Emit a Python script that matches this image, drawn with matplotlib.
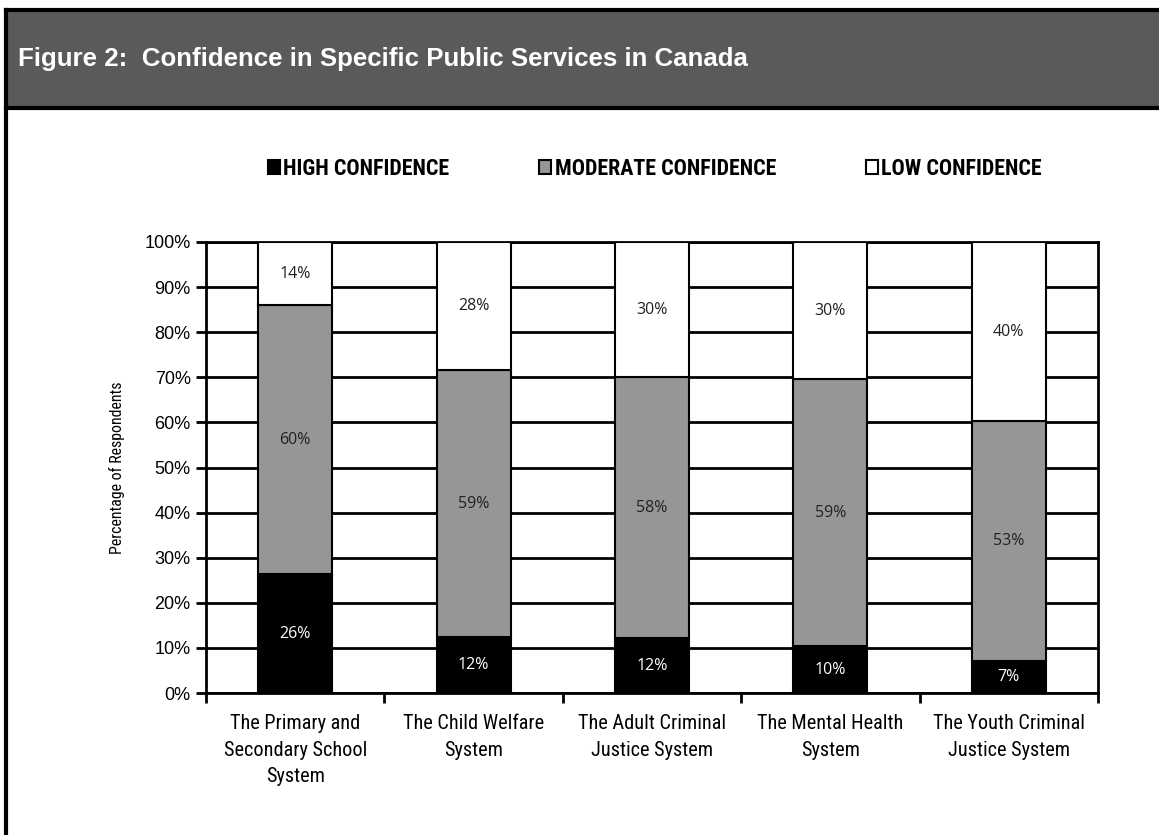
import numpy as np
import matplotlib
matplotlib.use("Agg")
import matplotlib.pyplot as plt
from matplotlib.patches import Patch, Rectangle
from matplotlib.lines import Line2D

# Survey results (% of respondents) per public service
services = [
    "The Primary and\nSecondary School\nSystem",
    "The Child Welfare\nSystem",
    "The Adult Criminal\nJustice System",
    "The Mental Health\nSystem",
    "The Youth Criminal\nJustice System",
]
high = [26.3, 12.4, 12.1, 10.4, 7.2]
moderate = [59.7, 59.2, 57.9, 59.2, 53.0]
low = [14.0, 28.4, 30.0, 30.4, 39.8]

series_names = ["HIGH CONFIDENCE", "MODERATE CONFIDENCE", "LOW CONFIDENCE"]
series_colors = ["#000000", "#969696", "#ffffff"]
label_colors = ["white", "#222222", "#222222"]

narrow = ["Roboto Condensed", "Archivo Narrow", "DejaVu Sans"]
arial = ["Liberation Sans", "DejaVu Sans"]
plain = ["Open Sans", "DejaVu Sans"]

W, H = 1159, 835
fig = plt.figure(figsize=(W / 100, H / 100), dpi=100)
fig.patch.set_facecolor("white")

# header band and frame
top = 1 - 10 / H
hdr_bot = 1 - 108 / H
fig.patches.append(Rectangle((6 / W, hdr_bot), 1 - 6 / W, top - hdr_bot,
                             transform=fig.transFigure, facecolor="#5a5a5a",
                             edgecolor="none", zorder=0))
for xs, ys in [([6 / W, 1], [top, top]), ([6 / W, 1], [hdr_bot, hdr_bot]),
               ([6 / W, 6 / W], [0, top])]:
    fig.add_artist(Line2D(xs, ys, transform=fig.transFigure, color="black", lw=3))
fig.text(18 / W, 1 - 59 / H, "Figure 2:  Confidence in Specific Public Services in Canada",
         color="white", fontsize=18.6, fontweight="bold", family=arial,
         va="center", ha="left")

ax = fig.add_axes([206 / W, 1 - 693 / H, (1098 - 206) / W, (693 - 242) / H])
x = np.arange(len(services))
width = 0.415
bottom = np.zeros(len(services))
for vals, name, col, lcol in zip([high, moderate, low], series_names, series_colors, label_colors):
    vals = np.array(vals)
    ax.bar(x, vals, width, bottom=bottom, color=col, edgecolor="black", linewidth=1.5,
           label=name, zorder=3)
    for xi, b, v in zip(x, bottom, vals):
        ax.text(xi, b + v / 2, f"{round(v)}%", ha="center", va="center",
                color=lcol, fontsize=11.5, family=plain, zorder=4)
    bottom += vals

ax.set_xlim(-0.5, len(services) - 0.5)
ax.set_ylim(0, 100)
ax.set_yticks(np.arange(0, 101, 10))
ax.set_yticklabels([f"{v}%" for v in range(0, 101, 10)], family=arial, fontsize=13)
ax.yaxis.grid(True, color="black", linewidth=2)
ax.set_axisbelow(True)
ax.tick_params(axis="y", direction="out", length=7, width=2, pad=4)

ax.set_xticks(np.arange(-0.5, len(services)), labels=[])
ax.set_xticks(x, minor=True)
ax.set_xticklabels(services, minor=True, family=narrow, fontsize=14.6, linespacing=1.52)
ax.tick_params(axis="x", which="major", direction="out", length=7, width=2)
ax.tick_params(axis="x", which="minor", length=0, pad=15)
for s in ax.spines.values():
    s.set_linewidth(2)
    s.set_color("black")

ax.set_ylabel("Percentage of Respondents", family=narrow, fontsize=11.4, labelpad=14)

handles = [Patch(facecolor=c, edgecolor="black", linewidth=1.5) for c in series_colors]
fig.legend(handles, series_names, loc="center", bbox_to_anchor=(655 / W, 1 - 169 / H),
           ncol=3, frameon=False, borderpad=0, borderaxespad=0,
           handlelength=0.55, handleheight=0.6, handletextpad=0.15, columnspacing=4.1,
           prop={"family": narrow, "size": 15.8, "weight": "bold"})

fig.savefig("out.png", dpi=100)
